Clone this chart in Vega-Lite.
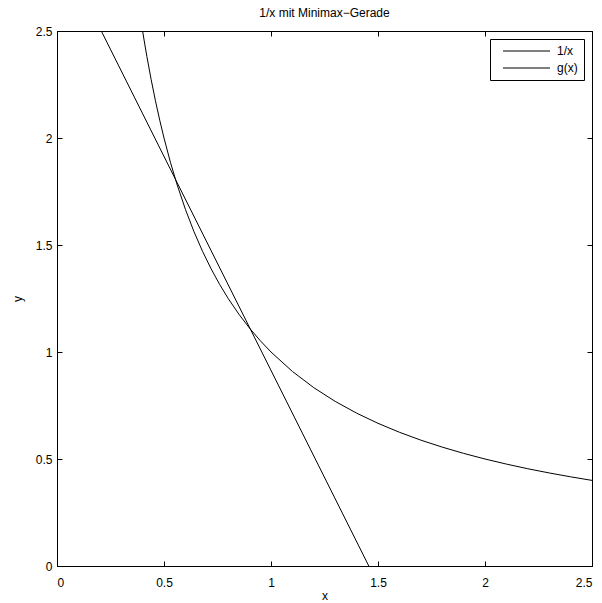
{
  "$schema": "https://vega.github.io/schema/vega-lite/v6.json",
  "width": 535,
  "height": 535,
  "autosize": {"type": "none"},
  "padding": {"left": 57, "top": 31, "right": 10, "bottom": 37},
  "background": "white",
  "config": {
    "font": "Liberation Sans",
    "view": {"stroke": "black", "strokeWidth": 1},
    "axis": {"grid": false, "domainColor": "black", "tickColor": "black", "labelColor": "black", "titleColor": "black", "labelFont": "Liberation Sans", "titleFont": "Liberation Sans", "labelFontSize": 12, "titleFontSize": 12, "titleFontWeight": "normal", "tickSize": -5, "domainWidth": 1}
  },
  "title": {"text": "1/x mit Minimax\u2212Gerade", "fontSize": 12, "fontWeight": "normal", "font": "Liberation Sans", "color": "black", "offset": 5},
  "datasets": {
    "pts": [
      {"x": 0.4, "y": 2.5, "series": "1/x"},
      {"x": 0.41, "y": 2.439, "series": "1/x"},
      {"x": 0.42, "y": 2.381, "series": "1/x"},
      {"x": 0.44, "y": 2.2727, "series": "1/x"},
      {"x": 0.46, "y": 2.1739, "series": "1/x"},
      {"x": 0.48, "y": 2.0833, "series": "1/x"},
      {"x": 0.5, "y": 2.0, "series": "1/x"},
      {"x": 0.53, "y": 1.8868, "series": "1/x"},
      {"x": 0.56, "y": 1.7857, "series": "1/x"},
      {"x": 0.6, "y": 1.6667, "series": "1/x"},
      {"x": 0.64, "y": 1.5625, "series": "1/x"},
      {"x": 0.68, "y": 1.4706, "series": "1/x"},
      {"x": 0.72, "y": 1.3889, "series": "1/x"},
      {"x": 0.76, "y": 1.3158, "series": "1/x"},
      {"x": 0.8, "y": 1.25, "series": "1/x"},
      {"x": 0.85, "y": 1.1765, "series": "1/x"},
      {"x": 0.9, "y": 1.1111, "series": "1/x"},
      {"x": 0.95, "y": 1.0526, "series": "1/x"},
      {"x": 1.0, "y": 1.0, "series": "1/x"},
      {"x": 1.1, "y": 0.9091, "series": "1/x"},
      {"x": 1.2, "y": 0.8333, "series": "1/x"},
      {"x": 1.3, "y": 0.7692, "series": "1/x"},
      {"x": 1.4, "y": 0.7143, "series": "1/x"},
      {"x": 1.5, "y": 0.6667, "series": "1/x"},
      {"x": 1.6, "y": 0.625, "series": "1/x"},
      {"x": 1.7, "y": 0.5882, "series": "1/x"},
      {"x": 1.8, "y": 0.5556, "series": "1/x"},
      {"x": 1.9, "y": 0.5263, "series": "1/x"},
      {"x": 2.0, "y": 0.5, "series": "1/x"},
      {"x": 2.1, "y": 0.4762, "series": "1/x"},
      {"x": 2.2, "y": 0.4545, "series": "1/x"},
      {"x": 2.3, "y": 0.4348, "series": "1/x"},
      {"x": 2.4, "y": 0.4167, "series": "1/x"},
      {"x": 2.5, "y": 0.4, "series": "1/x"},
      {"x": 0.207, "y": 2.5, "series": "g(x)"},
      {"x": 1.457, "y": 0.0, "series": "g(x)"}
    ]
  },
  "data": {"name": "pts"},
  "layer": [
    {
      "mark": {"type": "line", "strokeWidth": 1, "clip": true},
      "encoding": {
        "x": {"field": "x", "type": "quantitative", "scale": {"domain": [0, 2.5], "nice": false, "zero": false}, "axis": {"values": [0, 0.5, 1, 1.5, 2, 2.5], "title": "x", "labelPadding": 16, "titleY": 24, "labelExpr": "datum.value"}},
        "y": {"field": "y", "type": "quantitative", "scale": {"domain": [0, 2.5], "nice": false, "zero": false}, "axis": {"values": [0, 0.5, 1, 1.5, 2, 2.5], "title": "y", "labelPadding": 10, "titleX": -33, "labelExpr": "datum.value"}},
        "color": {"field": "series", "type": "nominal", "scale": {"domain": ["1/x", "g(x)"], "range": ["black", "black"]},
          "legend": {"title": null, "orient": "top-right", "offset": 8, "symbolType": "M0.5,0H24", "symbolSize": 16, "symbolStrokeWidth": 1, "symbolFillColor": "transparent", "labelFontSize": 12, "labelFont": "Liberation Sans", "labelColor": "black", "strokeColor": "black", "fillColor": "white", "padding": 6, "rowPadding": 5, "labelAlign": "left", "labelOffset": 49}}
      }
    },
    {
      "mark": {"type": "line", "opacity": 0, "clip": true},
      "encoding": {
        "x": {"field": "x", "type": "quantitative", "scale": {"domain": [0, 2.5], "nice": false, "zero": false}, "axis": {"orient": "top", "values": [0, 0.5, 1, 1.5, 2, 2.5], "labels": false, "title": null}},
        "y": {"field": "y", "type": "quantitative", "scale": {"domain": [0, 2.5], "nice": false, "zero": false}, "axis": {"orient": "right", "values": [0, 0.5, 1, 1.5, 2, 2.5], "labels": false, "title": null}},
        "detail": {"field": "series"}
      }
    }
  ],
  "resolve": {"axis": {"x": "independent", "y": "independent"}}
}
